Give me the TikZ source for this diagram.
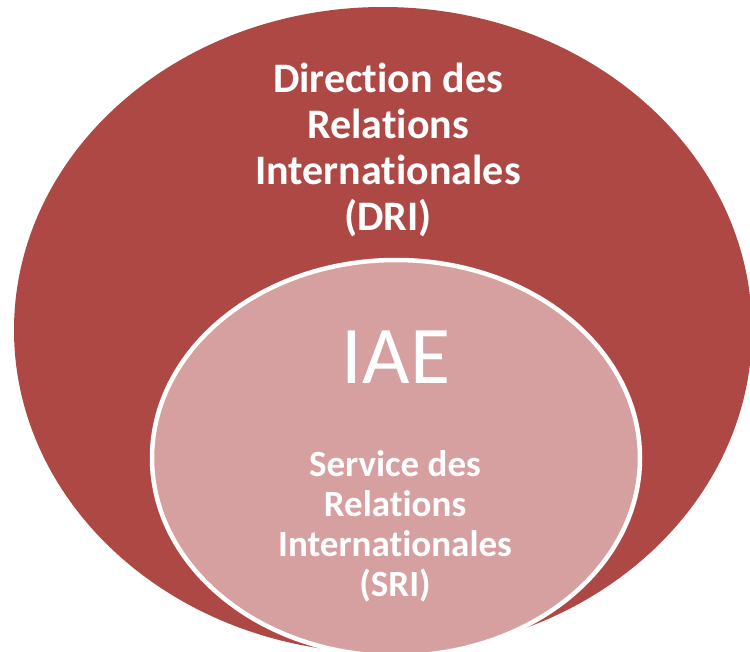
\documentclass[tikz,border=0pt]{standalone}
\usepackage{fontspec}
\setmainfont{Carlito}[Ligatures=NoCommon]
\definecolor{drired}{HTML}{AE4845}
\definecolor{sripink}{HTML}{D7A0A0}
\begin{document}
\begin{tikzpicture}[x=1pt,y=-1pt]
      \useasboundingbox (0,0) rectangle (750,651);
      \clip (0,0) rectangle (750,651);
      \fill[drired] (383,330) ellipse [x radius=369pt, y radius=323pt];
      \filldraw[fill=sripink,draw=white,line width=4.5pt] (396,458) ellipse [x radius=244pt, y radius=198pt];
      \begin{scope}[every node/.style={text=white,align=center,inner sep=0pt}]
        \node[font={\fontsize{42}{46}\selectfont\bfseries}] (dri) at (388,150) {Direction des\\Relations\\Internationales\\(DRI)};
        \node[font={\fontsize{82}{90}\selectfont}] (iae) at (396,357) {IAE};
        \node[font={\fontsize{37}{40}\selectfont\bfseries}] (sri) at (395,526) {Service des\\Relations\\Internationales\\(SRI)};
      \end{scope}
    \end{tikzpicture}
\end{document}
